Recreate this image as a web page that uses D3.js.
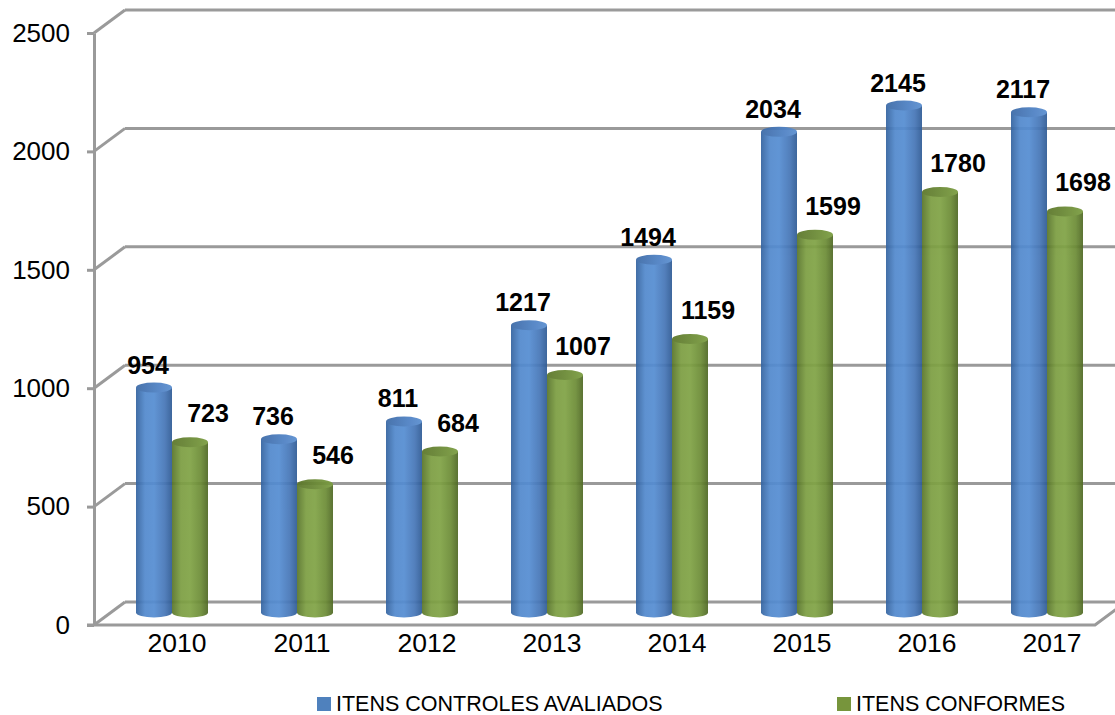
<!DOCTYPE html>
<html>
<head>
<meta charset="utf-8">
<script src="https://cdn.jsdelivr.net/npm/d3@7"></script>
<style>
  body { margin: 0; background: #fff; }
  svg { display: block; font-family: "Liberation Sans", Arial, sans-serif; }
</style>
</head>
<body>
<script>
var years = ["2010", "2011", "2012", "2013", "2014", "2015", "2016", "2017"];
var avaliados = [954, 736, 811, 1217, 1494, 2034, 2145, 2117];
var conformes = [723, 546, 684, 1007, 1159, 1599, 1780, 1698];
var yTicks = [0, 500, 1000, 1500, 2000, 2500];
var seriesNames = ["ITENS CONTROLES AVALIADOS", "ITENS CONFORMES"];

window.onload = drawChart();

function drawChart(){
    var w = 1115, h = 715;
    var depthX = 31, depthY = -23;   // 3d offset front -> back wall
    var axisX = 94;

    var svg = d3.select("body").append("svg")
        .attr("width", w)
        .attr("height", h);

    var yFront = d3.scaleLinear().domain([0, 2500]).range([625, 33]);
    // bars stand half way in depth
    var yMid = d3.scaleLinear().domain([0, 2500]).range([625 + depthY / 2, 33 + depthY / 2]);

    var x = d3.scaleBand().domain(years).range([109.5, 1109.5]);
    var xs = d3.scaleBand().domain(["a", "c"]).range([0, 72]);

    var defs = svg.append("defs");
    function grad(id, stops){
        var g = defs.append("linearGradient").attr("id", id)
            .attr("x1", "0%").attr("x2", "100%").attr("y1", "0%").attr("y2", "0%");
        stops.forEach(function(s){
            g.append("stop").attr("offset", s[0]).attr("stop-color", s[1]);
        });
    }
    grad("blueBody", [["0%", "#34639f"], ["25%", "#5289cd"], ["50%", "#558dd2"], ["80%", "#4676b7"], ["100%", "#2f5b95"]]);
    grad("greenBody", [["0%", "#58742a"], ["25%", "#7c9e42"], ["50%", "#80a345"], ["80%", "#6c8c36"], ["100%", "#4f6824"]]);
    grad("blueTop", [["0%", "#3b69a6"], ["60%", "#4c7fc2"], ["100%", "#5a8ed0"]]);
    grad("greenTop", [["0%", "#5a7529"], ["60%", "#6c8c35"], ["100%", "#7a9c40"]]);

    var grid = svg.append("g").attr("class", "grid")
        .attr("stroke", "#9a9a9a")
        .attr("stroke-width", 3)
        .attr("fill", "none");

    // back wall lines
    grid.selectAll(".back")
        .data(yTicks)
        .enter().append("line")
        .attr("x1", axisX + depthX)
        .attr("x2", w + 10)
        .attr("y1", function(d){ return yFront(d) + depthY; })
        .attr("y2", function(d){ return yFront(d) + depthY; });

    // side wall diagonals
    grid.selectAll(".side")
        .data(yTicks)
        .enter().append("line")
        .attr("x1", axisX)
        .attr("x2", axisX + depthX)
        .attr("y1", function(d){ return yFront(d); })
        .attr("y2", function(d){ return yFront(d) + depthY; });

    // floor front edge
    grid.append("path")
        .attr("d", "M" + (axisX - 7) + "," + yFront(0) + "H1095l" + depthX + "," + depthY);

    // front value axis
    var yAxis = svg.append("g")
        .attr("transform", "translate(" + axisX + ",0)")
        .call(d3.axisLeft(yFront).tickValues(yTicks).tickFormat(d3.format("d"))
            .tickSize(7).tickSizeOuter(0).tickPadding(17));
    yAxis.selectAll("path, line").attr("stroke", "#9a9a9a").attr("stroke-width", 3);
    yAxis.selectAll("text")
        .attr("font-size", 26)
        .attr("font-family", "Liberation Sans, Arial, sans-serif")
        .attr("fill", "#000");

    // cylinders
    var rx = 18, ry = 5;
    var data = [];
    years.forEach(function(y, i){
        data.push({year: y, key: "a", value: avaliados[i]});
        data.push({year: y, key: "c", value: conformes[i]});
    });

    var bars = svg.append("g").selectAll(".bar")
        .data(data)
        .enter().append("g")
        .attr("class", "bar")
        .attr("opacity", 0.93);

    function cx(d){ return x(d.year) + x.bandwidth() / 2 - 36 + xs(d.key) + xs.bandwidth() / 2; }

    bars.append("path")
        .attr("fill", function(d){ return d.key == "a" ? "url(#blueBody)" : "url(#greenBody)"; })
        .attr("d", function(d){
            var c = cx(d), top = yMid(d.value), base = yMid(0) - 1;
            return "M" + (c - rx) + "," + top +
                "V" + base +
                "A" + rx + "," + ry + " 0 0 0 " + (c + rx) + "," + base +
                "V" + top + "Z";
        });

    bars.append("ellipse")
        .attr("cx", cx)
        .attr("cy", function(d){ return yMid(d.value); })
        .attr("rx", rx)
        .attr("ry", ry)
        .attr("fill", function(d){ return d.key == "a" ? "url(#blueTop)" : "url(#greenTop)"; });

    // data labels
    svg.append("g").selectAll(".lbl")
        .data(data)
        .enter().append("text")
        .attr("x", function(d){ return cx(d) + (d.key == "a" ? -6 : 18); })
        .attr("y", function(d){ return yMid(d.value) - (d.key == "a" ? 14 : 20); })
        .attr("text-anchor", "middle")
        .attr("font-size", 25)
        .attr("font-weight", "bold")
        .attr("fill", "#000")
        .text(function(d){ return d.value; });

    // category axis
    var xAxis = svg.append("g")
        .attr("transform", "translate(5," + yFront(0) + ")")
        .call(d3.axisBottom(x).tickSize(0).tickPadding(8));
    xAxis.select(".domain").remove();
    xAxis.selectAll("text")
        .attr("font-size", 26.5)
        .attr("font-family", "Liberation Sans, Arial, sans-serif")
        .attr("fill", "#000");

    // legend
    var legendX = [317, 837];
    var legend = svg.append("g").selectAll(".leg")
        .data(seriesNames)
        .enter().append("g")
        .attr("transform", function(d, i){ return "translate(" + legendX[i] + ",697)"; });
    legend.append("rect")
        .attr("width", 14).attr("height", 14)
        .attr("fill", function(d, i){ return i == 0 ? "#4f81bd" : "#77953c"; });
    legend.append("text")
        .attr("x", 19)
        .attr("y", 14)
        .attr("font-size", 21.5)
        .attr("fill", "#000")
        .text(function(d){ return d; });
}
</script>
</body>
</html>
